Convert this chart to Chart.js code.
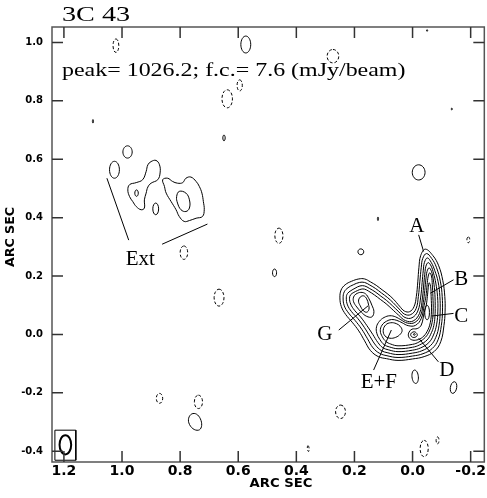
<!DOCTYPE html>
<html>
<head>
<meta charset="utf-8">
<script src="https://cdn.jsdelivr.net/npm/chart.js@4"></script>
<style>
html, body { margin: 0; padding: 0; background: #fff; }
#c { display: block; }
</style>
</head>
<body>
<canvas id="c" width="487" height="498"></canvas>
<script>
// axis ticks (arc sec)
const xTickValues = [1.2, 1.0, 0.8, 0.6, 0.4, 0.2, 0.0, -0.2];
const yTickValues = [-0.4, -0.2, 0.0, 0.2, 0.4, 0.6, 0.8, 1.0];

// main source: nested positive contours, [x, y] in arc sec
const ring1 = [[-0.044,0.292],[-0.070,0.270],[-0.090,0.235],[-0.104,0.185],[-0.111,0.130],[-0.112,0.080],[-0.108,0.030],[-0.097,-0.025],[-0.075,-0.058],[-0.040,-0.076],[0.000,-0.084],[0.050,-0.089],[0.090,-0.083],[0.118,-0.076],[0.145,-0.055],[0.165,-0.022],[0.185,0.012],[0.208,0.042],[0.230,0.068],[0.245,0.095],[0.250,0.125],[0.246,0.152],[0.232,0.170],[0.210,0.182],[0.185,0.190],[0.165,0.190],[0.145,0.180],[0.125,0.168],[0.105,0.153],[0.085,0.138],[0.065,0.120],[0.045,0.097],[0.028,0.080],[0.010,0.078],[-0.005,0.095],[-0.013,0.130],[-0.018,0.180],[-0.022,0.230],[-0.028,0.270]];
const ring2 = [[-0.048,0.277],[-0.066,0.260],[-0.082,0.230],[-0.096,0.180],[-0.102,0.130],[-0.103,0.080],[-0.099,0.030],[-0.088,-0.018],[-0.068,-0.048],[-0.036,-0.066],[0.000,-0.074],[0.050,-0.079],[0.088,-0.073],[0.113,-0.065],[0.136,-0.046],[0.155,-0.015],[0.175,0.018],[0.198,0.048],[0.220,0.073],[0.235,0.098],[0.239,0.125],[0.235,0.146],[0.222,0.160],[0.204,0.170],[0.183,0.178],[0.165,0.178],[0.147,0.169],[0.127,0.157],[0.107,0.142],[0.087,0.127],[0.067,0.109],[0.046,0.087],[0.027,0.069],[0.006,0.068],[-0.012,0.088],[-0.020,0.130],[-0.025,0.180],[-0.030,0.230],[-0.035,0.260]];
const ring3 = [[-0.051,0.262],[-0.064,0.247],[-0.076,0.220],[-0.088,0.180],[-0.094,0.130],[-0.095,0.080],[-0.091,0.030],[-0.080,-0.010],[-0.062,-0.038],[-0.032,-0.056],[0.000,-0.064],[0.050,-0.069],[0.085,-0.063],[0.108,-0.055],[0.127,-0.037],[0.146,-0.008],[0.166,0.024],[0.188,0.054],[0.210,0.078],[0.224,0.101],[0.228,0.125],[0.224,0.140],[0.212,0.150],[0.198,0.158],[0.181,0.166],[0.165,0.166],[0.149,0.158],[0.129,0.146],[0.109,0.131],[0.089,0.116],[0.069,0.098],[0.047,0.077],[0.026,0.058],[0.002,0.057],[-0.018,0.080],[-0.028,0.128],[-0.033,0.178],[-0.037,0.220],[-0.041,0.247]];
const ring4 = [[-0.054,0.246],[-0.064,0.234],[-0.072,0.210],[-0.080,0.176],[-0.086,0.130],[-0.087,0.080],[-0.083,0.035],[-0.072,-0.002],[-0.056,-0.028],[-0.028,-0.046],[0.000,-0.054],[0.050,-0.059],[0.082,-0.053],[0.103,-0.045],[0.119,-0.028],[0.137,0.000],[0.157,0.030],[0.179,0.060],[0.200,0.083],[0.213,0.104],[0.217,0.124],[0.213,0.136],[0.202,0.144],[0.190,0.150],[0.177,0.155],[0.165,0.155],[0.151,0.148],[0.131,0.135],[0.111,0.120],[0.091,0.105],[0.071,0.087],[0.048,0.066],[0.024,0.047],[-0.002,0.046],[-0.024,0.072],[-0.034,0.125],[-0.039,0.176],[-0.043,0.215],[-0.046,0.234]];
const gLoop5 = [[0.195,0.138],[0.178,0.144],[0.162,0.139],[0.150,0.122],[0.140,0.100],[0.133,0.078],[0.140,0.060],[0.158,0.062],[0.176,0.076],[0.192,0.094],[0.203,0.112],[0.203,0.128]];
const main5 = [[-0.057,0.228],[-0.065,0.216],[-0.071,0.190],[-0.076,0.150],[-0.078,0.100],[-0.077,0.060],[-0.073,0.030],[-0.065,0.006],[-0.050,-0.019],[-0.024,-0.036],[0.000,-0.044],[0.050,-0.049],[0.079,-0.043],[0.098,-0.035],[0.112,-0.018],[0.123,0.004],[0.124,0.026],[0.114,0.045],[0.098,0.058],[0.078,0.064],[0.058,0.060],[0.040,0.050],[0.018,0.039],[-0.008,0.041],[-0.028,0.066],[-0.037,0.110],[-0.042,0.150],[-0.046,0.190],[-0.050,0.216]];
const gLoop6 = [[0.180,0.128],[0.168,0.132],[0.158,0.122],[0.152,0.104],[0.150,0.086],[0.158,0.076],[0.170,0.082],[0.180,0.098],[0.186,0.114]];
const main6 = [[-0.059,0.211],[-0.065,0.200],[-0.068,0.170],[-0.070,0.130],[-0.071,0.080],[-0.067,0.040],[-0.058,0.012],[-0.044,-0.010],[-0.022,-0.026],[0.000,-0.034],[0.050,-0.039],[0.075,-0.033],[0.092,-0.024],[0.104,-0.008],[0.111,0.012],[0.105,0.032],[0.090,0.045],[0.072,0.051],[0.054,0.048],[0.036,0.040],[0.015,0.030],[-0.010,0.031],[-0.030,0.055],[-0.040,0.100],[-0.046,0.130],[-0.050,0.170],[-0.054,0.200]];
const efLoop7 = [[0.092,0.033],[0.075,0.040],[0.056,0.037],[0.043,0.028],[0.036,0.014],[0.042,0.001],[0.058,-0.010],[0.078,-0.013],[0.095,-0.005],[0.101,0.014]];
const ridge7 = [[-0.057,0.177],[-0.062,0.165],[-0.064,0.130],[-0.065,0.080],[-0.061,0.040],[-0.050,0.010],[-0.034,-0.010],[-0.015,-0.019],[0.004,-0.018],[0.014,-0.006],[0.012,0.008],[0.002,0.018],[-0.016,0.020],[-0.030,0.032],[-0.040,0.075],[-0.047,0.100],[-0.051,0.130],[-0.054,0.160]];
const cKnot = [[-0.050,0.100],[-0.056,0.092],[-0.058,0.075],[-0.056,0.058],[-0.050,0.050],[-0.044,0.058],[-0.042,0.075],[-0.044,0.092]];
const dKnot = [[-0.005,0.009],[-0.014,0.004],[-0.016,-0.004],[-0.008,-0.010],[0.003,-0.008],[0.006,0.002]];
const dPeak = [[-0.006,0.003],[-0.009,0.000],[-0.006,-0.003],[-0.003,0.000]];

// extended emission (Ext)
const ext1 = [[0.980,0.495],[0.974,0.513],[0.951,0.520],[0.929,0.530],[0.917,0.558],[0.911,0.581],[0.900,0.592],[0.883,0.596],[0.871,0.581],[0.869,0.553],[0.877,0.530],[0.900,0.518],[0.911,0.505],[0.917,0.484],[0.923,0.461],[0.923,0.433],[0.934,0.427],[0.951,0.438],[0.963,0.455],[0.974,0.472]];
const ext1Inner = [[0.950,0.495],[0.944,0.484],[0.950,0.473],[0.956,0.484]];
const ext2 = [[0.860,0.530],[0.843,0.535],[0.826,0.524],[0.809,0.518],[0.791,0.520],[0.780,0.535],[0.763,0.539],[0.745,0.524],[0.734,0.507],[0.725,0.484],[0.720,0.455],[0.717,0.427],[0.723,0.404],[0.745,0.398],[0.768,0.390],[0.786,0.387],[0.803,0.404],[0.814,0.427],[0.831,0.455],[0.848,0.484],[0.854,0.507]];
const ext2Inner = [[0.803,0.490],[0.780,0.484],[0.768,0.461],[0.768,0.433],[0.780,0.421],[0.797,0.427],[0.809,0.450],[0.812,0.472]];

// isolated positive blobs
const posBlobs = [
  [[0.574,1.022],[0.557,0.993],[0.574,0.964],[0.591,0.993]],
  [[0.649,0.683],[0.645,0.673],[0.649,0.663],[0.653,0.673]],
  [[-0.050,1.044],[-0.052,1.041],[-0.050,1.038],[-0.048,1.041]],
  [[-0.135,0.775],[-0.137,0.772],[-0.135,0.769],[-0.133,0.772]],
  [[1.100,0.736],[1.098,0.730],[1.100,0.724],[1.102,0.730]],
  [[0.981,0.646],[0.965,0.625],[0.981,0.604],[0.997,0.625]],
  [[1.026,0.593],[1.009,0.564],[1.026,0.535],[1.043,0.564]],
  [[0.884,0.450],[0.874,0.430],[0.884,0.410],[0.894,0.430]],
  [[-0.021,0.581],[-0.043,0.555],[-0.021,0.529],[0.001,0.555]],
  [[0.119,0.402],[0.117,0.396],[0.119,0.390],[0.121,0.396]],
  [[0.178,0.293],[0.168,0.283],[0.178,0.273],[0.188,0.283]],
  [[0.475,0.224],[0.468,0.211],[0.475,0.198],[0.482,0.211]],
  [[-0.007,-0.122],[-0.020,-0.145],[-0.011,-0.168],[0.002,-0.145]],
  [[-0.144,-0.162],[-0.152,-0.182],[-0.138,-0.202],[-0.130,-0.182]],
  [[0.756,-0.271],[0.728,-0.295],[0.737,-0.328],[0.770,-0.303]]
];

// negative contours (dashed)
const negBlobs = [
  [[1.021,1.012],[1.011,0.989],[1.021,0.966],[1.031,0.989]],
  [[0.638,0.838],[0.620,0.807],[0.638,0.776],[0.656,0.807]],
  [[0.595,0.872],[0.586,0.853],[0.595,0.834],[0.604,0.853]],
  [[0.274,0.976],[0.254,0.953],[0.274,0.930],[0.294,0.953]],
  [[0.460,0.364],[0.446,0.338],[0.460,0.312],[0.474,0.338]],
  [[0.666,0.155],[0.649,0.126],[0.666,0.097],[0.683,0.126]],
  [[0.787,0.303],[0.774,0.280],[0.787,0.257],[0.800,0.280]],
  [[0.871,-0.202],[0.860,-0.219],[0.871,-0.236],[0.882,-0.219]],
  [[0.737,-0.208],[0.723,-0.231],[0.737,-0.254],[0.751,-0.231]],
  [[0.248,-0.242],[0.231,-0.265],[0.248,-0.288],[0.265,-0.265]],
  [[0.360,-0.381],[0.356,-0.391],[0.358,-0.401],[0.362,-0.391]],
  [[-0.040,-0.363],[-0.054,-0.391],[-0.040,-0.419],[-0.026,-0.391]],
  [[-0.086,-0.351],[-0.091,-0.363],[-0.086,-0.375],[-0.081,-0.363]],
  [[-0.192,0.334],[-0.197,0.324],[-0.192,0.314],[-0.187,0.324]]
];

// restoring beam and its box
const beam = [[1.195,-0.345],[1.175,-0.378],[1.195,-0.411],[1.215,-0.378]];
const beamBox = [[1.231,-0.328],[1.159,-0.328],[1.159,-0.431],[1.231,-0.431],[1.231,-0.328]];

// component labels and pointer lines
const labelText = ['A', 'B', 'C', 'D', 'G', 'E+F', 'Ext'];
const labelX = [-0.015, -0.168, -0.168, -0.118, 0.302, 0.116, 0.937];
const labelY = [0.351, 0.169, 0.044, -0.143, -0.019, -0.184, 0.238];
const pointers = [
  [[-0.021,0.341],[-0.038,0.284]],
  [[-0.141,0.187],[-0.061,0.141]],
  [[-0.141,0.072],[-0.066,0.063]],
  [[-0.089,-0.094],[-0.021,-0.013]],
  [[0.254,0.015],[0.153,0.098]],
  [[0.134,-0.122],[0.073,0.015]],
  [[1.052,0.535],[0.977,0.323]],
  [[0.862,0.309],[0.706,0.378]]
];

const titleText = '3C 43';
const peakText = 'peak= 1026.2; f.c.= 7.6 (mJy/beam)';
const axisTitle = 'ARC SEC';

function toXY(pts) {
    return pts.map(p => ({x: p[0], y: p[1]}));
}

function contour(pts, dashed, width) {
    return {
        data: toXY(pts),
        borderColor: '#000',
        borderWidth: width || 1,
        borderDash: dashed ? [3, 2] : [],
        tension: pts.length < 6 ? 0.55 : 0.4,
        closed: true,
        pointRadius: 0,
        fill: false
    };
}

function segment(pts, width) {
    return {
        data: toXY(pts),
        borderColor: '#000',
        borderWidth: width || 1,
        tension: 0,
        pointRadius: 0,
        fill: false
    };
}

const datasets = [];
[ring1, ring2, ring3, ring4, gLoop5, main5, gLoop6, main6, efLoop7, ridge7, cKnot, dKnot, dPeak,
 ext1, ext1Inner, ext2, ext2Inner].forEach(c => datasets.push(contour(c, false)));
posBlobs.forEach(c => datasets.push(contour(c, false)));
negBlobs.forEach(c => datasets.push(contour(c, true)));
datasets.push(contour(beam, false, 2));
datasets.push(segment(beamBox, 1));
pointers.forEach(p => datasets.push(segment(p, 1)));

// close contour loops smoothly
const loopPlugin = {
    id: 'loops',
    afterDatasetsUpdate(chart) {
        chart.data.datasets.forEach((ds, i) => {
            if (!ds.closed) return;
            const line = chart.getDatasetMeta(i).dataset;
            line._loop = true;
            line._fullLoop = true;
            line._pointsUpdated = false;
            delete line._segments;
            delete line._path;
        });
    }
};

function stretchedText(ctx, text, x, y, size, sx, align, font, rot) {
    ctx.save();
    ctx.translate(x, y);
    if (rot) ctx.rotate(rot);
    ctx.scale(sx, 1);
    ctx.font = font || (size + 'px "Liberation Serif", "Times New Roman", serif');
    ctx.textAlign = align;
    ctx.textBaseline = 'alphabetic';
    ctx.fillStyle = '#000';
    ctx.fillText(text, 0, 0);
    ctx.restore();
}

// frame, inward ticks and text
const framePlugin = {
    id: 'frame',
    afterDraw(chart) {
        const {ctx, chartArea: a, scales: {x, y}} = chart;
        ctx.save();
        ctx.strokeStyle = '#555';
        ctx.lineWidth = 1.5;
        ctx.strokeRect(a.left, a.top, a.right - a.left, a.bottom - a.top);
        ctx.strokeStyle = '#333';
        ctx.beginPath();
        xTickValues.forEach(v => {
            const px = x.getPixelForValue(v);
            ctx.moveTo(px, a.bottom); ctx.lineTo(px, a.bottom - 11);
            ctx.moveTo(px, a.top); ctx.lineTo(px, a.top + 11);
        });
        yTickValues.forEach(v => {
            const py = y.getPixelForValue(v);
            ctx.moveTo(a.left, py); ctx.lineTo(a.left + 11, py);
            ctx.moveTo(a.right, py); ctx.lineTo(a.right - 11, py);
        });
        ctx.stroke();
        ctx.restore();

        stretchedText(ctx, titleText, a.left + 10, 20.5, 22, 1.28, 'left');
        stretchedText(ctx, peakText, a.left + 10, 76, 18, 1.33, 'left');
        labelText.forEach((t, i) => {
            stretchedText(ctx, t, x.getPixelForValue(labelX[i]), y.getPixelForValue(labelY[i]), 20, 1.05, 'center');
        });
        // axis titles
        const axisFont = 'bold 12px "DejaVu Sans", sans-serif';
        stretchedText(ctx, axisTitle, 281, 487, 12, 1.1, 'center', axisFont);
        stretchedText(ctx, axisTitle, 14, 237, 12, 1.05, 'center', axisFont, -Math.PI / 2);
    }
};

new Chart(document.getElementById('c'), {
    type: 'line',
    data: {datasets: datasets},
    options: {
        responsive: false,
        animation: false,
        events: [],
        layout: {padding: {top: 27, right: 1, left: 0, bottom: 0}},
        plugins: {legend: {display: false}, tooltip: {enabled: false}},
        elements: {point: {radius: 0}},
        scales: {
            x: {
                type: 'linear',
                reverse: true,
                min: -0.247,
                max: 1.241,
                afterBuildTicks: s => { s.ticks = xTickValues.map(v => ({value: v})); },
                afterFit: s => { s.height = 36; },
                grid: {display: false, drawTicks: false},
                border: {display: false},
                ticks: {
                    autoSkip: false,
                    maxRotation: 0,
                    padding: 1,
                    color: '#000',
                    font: {family: 'DejaVu Sans', weight: 'bold', size: 14},
                    callback: v => Number(v).toFixed(1)
                }
            },
            y: {
                type: 'linear',
                min: -0.437,
                max: 1.053,
                afterBuildTicks: s => { s.ticks = yTickValues.map(v => ({value: v})); },
                afterFit: s => { s.width = 52; },
                grid: {display: false, drawTicks: false},
                border: {display: false},
                ticks: {
                    autoSkip: false,
                    padding: 9,
                    color: '#000',
                    font: {family: 'DejaVu Sans', weight: 'bold', size: 10},
                    callback: v => Number(v).toFixed(1)
                }
            }
        }
    },
    plugins: [loopPlugin, framePlugin]
});
</script>
</body>
</html>
